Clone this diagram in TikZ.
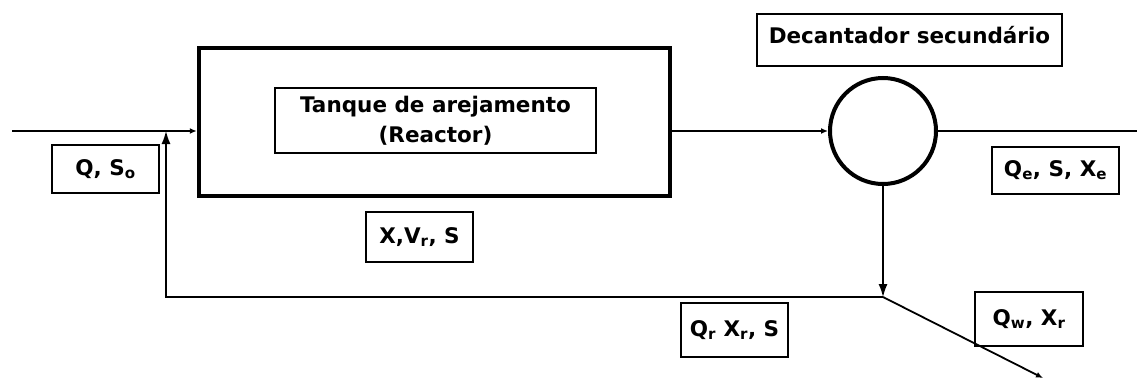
\documentclass[tikz,border=0pt]{standalone}
\usepackage{fontspec}
\setmainfont{DejaVu Sans}
\usetikzlibrary{arrows.meta}
\tikzset{
  flow/.style={line width=1.4pt},
  bigtip/.style={-{Latex[length=13pt,width=9pt]}},
  smalltip/.style={-{Latex[length=7pt,width=6pt]}},
  lbl/.style={draw, line width=1.4pt, inner sep=0pt, align=center,
    font=\bfseries\fontsize{21.5}{30}\selectfont},
}
\begin{document}
\begin{tikzpicture}[x=1pt,y=-1pt]
\useasboundingbox (0,0) rectangle (1137,380);
% reactor
\node[draw, line width=4.5pt, minimum width=471pt, minimum height=148pt, inner sep=0pt] (reac) at (434.5,122) {};
\node[lbl, minimum width=321pt, minimum height=65pt] (tank) at (435.5,120.5) {Tanque de arejamento\\(Reactor)};
% settler
\node[circle, draw, line width=4pt, minimum size=106pt, inner sep=0pt] (dec) at (883,131) {};
\node[lbl, minimum width=305pt, minimum height=52pt, text depth=10pt] (dtxt) at (909.5,40) {Decantador secundário};
% labels
\node[lbl, minimum width=107pt, minimum height=48pt] (qs) at (105.5,169) {Q, S\textsubscript{o}};
\node[lbl, minimum width=107pt, minimum height=50pt] (xvs) at (419.5,237) {X,V\textsubscript{r}, S};
\node[lbl, minimum width=127pt, minimum height=47pt] (qe) at (1055.5,170.5) {Q\textsubscript{e}, S, X\textsubscript{e}};
\node[lbl, minimum width=107pt, minimum height=54pt] (qr) at (734.5,330) {Q\textsubscript{r} X\textsubscript{r}, S};
\node[lbl, minimum width=108pt, minimum height=54pt] (qw) at (1029,319) {Q\textsubscript{w}, X\textsubscript{r}};
% coordinates
\coordinate (in) at (12,131);
\coordinate (out) at (1137,131);
\coordinate (j) at (883,297);
\coordinate (rt) at (166,131);
\coordinate (wout) at (1043,378);
% connectors
\draw[flow, smalltip] (in) -- (in -| reac.west);
\draw[flow, smalltip] (reac.east |- in) -- (dec.west);
\draw[flow] (dec.east) -- (out);
\draw[flow, bigtip] (dec.south) -- (j);
\draw[flow, bigtip] (j) -| (rt);
\draw[line width=1.8pt, smalltip] (j) -- (wout);
\end{tikzpicture}
\end{document}
